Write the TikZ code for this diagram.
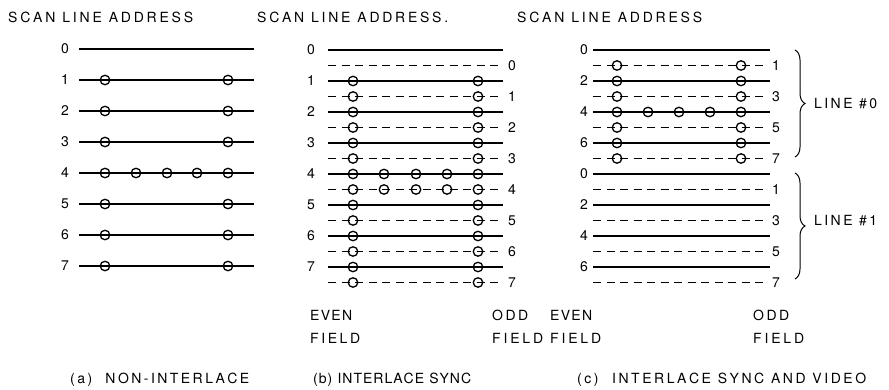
\documentclass[tikz,border=0pt]{standalone}
\usepackage{fontspec}
\newfontfamily\basef{TeX Gyre Heros}
\usetikzlibrary{decorations.pathreplacing}
% letter-spaced words: equal stretchable glue between the letters
\makeatletter
\newcommand\spw[1]{\def\spw@first{1}%
  \@tfor\spw@c:=#1\do{\ifnum\spw@first=1 \def\spw@first{0}\else\hskip 0pt plus 1fil\relax\fi\spw@c}}
\makeatother
\newcommand\sword{\hskip 0.3em plus 1fil\relax}
\newcommand\fitb[2]{\hbox to #1pt{#2}}
\begin{document}
\begin{tikzpicture}[x=1pt,y=-1pt,
  txt/.style={font=\basef\fontsize{14}{16}\selectfont, inner sep=0pt},
  ln/.style={line width=1.1pt},
  dl/.style={line width=1.1pt, dash pattern=on 8pt off 5.5pt},
  circ/.style={circle, draw, line width=1.3pt, minimum size=9.5pt, inner sep=0pt},
  brc/.style={line width=1pt, decorate, decoration={brace, amplitude=10pt}}]
\useasboundingbox (0,0) rectangle (889,390);
% titles
\node[txt, anchor=west] (ta) at (8,17) {\fitb{185}{\spw{SCAN}\sword\spw{LINE}\sword\spw{ADDRESS}}};
\node[txt, anchor=west] (tb) at (257,17) {\fitb{191}{\spw{SCAN}\sword\spw{LINE}\sword\spw{ADDRESS.}}};
\node[txt, anchor=west] (tc) at (517,17) {\fitb{185}{\spw{SCAN}\sword\spw{LINE}\sword\spw{ADDRESS}}};
% ---------- panel (a)
\foreach \k in {0,...,7}{
  \pgfmathsetmacro{\yy}{49+31*\k}
  \coordinate (aL\k) at (79,\yy);
  \coordinate (aR\k) at (254,\yy);
  \draw[ln] (aL\k) -- (aR\k);
  \node[txt, anchor=east] (an\k) at (69,\yy) {\k};
}
\foreach \k in {1,...,7}{
  \pgfmathsetmacro{\yy}{49+31*\k}
  \node[circ] (ac\k l) at (105,\yy) {};
  \node[circ] (ac\k r) at (228,\yy) {};
}
\foreach \x [count=\i] in {136,167,197}{
  \node[circ] (acm\i) at (\x,173) {};
}
\node[txt, anchor=west] (capa) at (70,380) {\fitb{179}{\spw{(a)}\sword\sword\spw{NON-INTERLACE}}};
% ---------- panel (b)
\foreach \k in {0,...,7}{
  \pgfmathsetmacro{\ys}{50+31*\k}
  \pgfmathsetmacro{\yd}{65.5+31*\k}
  \coordinate (bL\k) at (328,\ys);
  \coordinate (bR\k) at (503,\ys);
  \coordinate (bdL\k) at (328,\yd);
  \coordinate (bdR\k) at (503,\yd);
  \draw[ln] (bL\k) -- (bR\k);
  \draw[dl] (bdL\k) -- (bdR\k);
  \node[txt, anchor=east] (bn\k) at (315,\ys) {\k};
  \node[txt, anchor=west] (bo\k) at (508,\yd) {\k};
}
\foreach \k in {1,...,7}{
  \pgfmathsetmacro{\ys}{50+31*\k}
  \pgfmathsetmacro{\yd}{65.5+31*\k}
  \node[circ] (bc\k l) at (353,\ys) {};
  \node[circ] (bc\k r) at (478,\ys) {};
  \node[circ] (bd\k l) at (353,\yd) {};
  \node[circ] (bd\k r) at (478,\yd) {};
}
\foreach \x [count=\i] in {384,416,447}{
  \node[circ] (bcm\i) at (\x,174) {};
  \node[circ] (bdm\i) at (\x,189.5) {};
}
\node[txt, anchor=west] (be1) at (310,315) {\fitb{42}{\spw{EVEN}}};
\node[txt, anchor=west] (be2) at (310,338) {\fitb{50}{\spw{FIELD}}};
\node[txt, anchor=west] (bo1x) at (492,315) {\fitb{36}{\spw{ODD}}};
\node[txt, anchor=west] (bo2x) at (492,338) {\fitb{51}{\spw{FIELD}}};
\node[txt, anchor=west] (capb) at (313,380) {\fitb{158}{\spw{(b)}\sword\spw{INTERLACE}\sword\spw{SYNC}}};
% ---------- panel (c)
\foreach \j in {0,...,15}{
  \pgfmathsetmacro{\yy}{50+15.5*\j}
  \pgfmathtruncatemacro{\lab}{mod(\j,8)}
  \pgfmathtruncatemacro{\odd}{mod(\j,2)}
  \coordinate (cL\j) at (593,\yy);
  \ifnum\odd=0
    \coordinate (cR\j) at (770,\yy);
    \draw[ln] (cL\j) -- (cR\j);
    \node[txt, anchor=east] (cn\j) at (588,\yy) {\lab};
  \else
    \coordinate (cR\j) at (768,\yy);
    \draw[dl] (cL\j) -- (cR\j);
    \node[txt, anchor=west] (cn\j) at (772,\yy) {\lab};
  \fi
}
\foreach \j in {1,...,7}{
  \pgfmathsetmacro{\yy}{50+15.5*\j}
  \node[circ] (cc\j l) at (617,\yy) {};
  \node[circ] (cc\j r) at (741,\yy) {};
}
\foreach \x [count=\i] in {648,679,710}{
  \node[circ] (ccm\i) at (\x,112) {};
}
\coordinate (b0t) at (795,50);
\coordinate (b0b) at (795,157);
\coordinate (b1t) at (795,173);
\coordinate (b1b) at (795,279);
\draw[brc] (b0t) -- (b0b);
\draw[brc] (b1t) -- (b1b);
\node[txt, anchor=west] (l0) at (814,103.5) {\fitb{63}{\spw{LINE}\sword\spw{\#0}}};
\node[txt, anchor=west] (l1) at (814,221) {\fitb{63}{\spw{LINE}\sword\spw{\#1}}};
\node[txt, anchor=west] (ce1) at (550,315) {\fitb{42}{\spw{EVEN}}};
\node[txt, anchor=west] (ce2) at (550,338) {\fitb{51}{\spw{FIELD}}};
\node[txt, anchor=west] (co1) at (753,315) {\fitb{36}{\spw{ODD}}};
\node[txt, anchor=west] (co2) at (753,338) {\fitb{51}{\spw{FIELD}}};
\node[txt, anchor=west] (capc) at (577,380) {\fitb{289}{\spw{(c)}\sword\sword\spw{INTERLACE}\sword\spw{SYNC}\sword\spw{AND}\sword\spw{VIDEO}}};
\end{tikzpicture}
\end{document}
